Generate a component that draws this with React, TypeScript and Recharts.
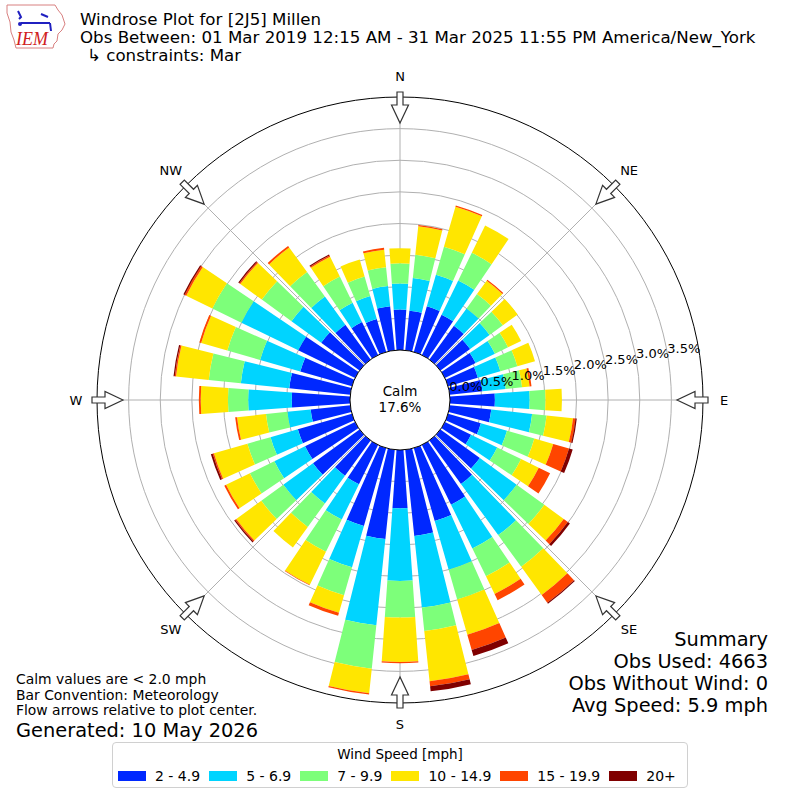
import React from 'react'
import {
  RadialBarChart,
  RadialBar,
  PolarAngleAxis,
  PolarRadiusAxis,
  PolarGrid,
  Legend,
} from 'recharts'

// wind direction (deg, where the wind comes from)
const directions = [
  0, 10, 20, 30, 40, 50, 60, 70, 80, 90, 100, 110, 120, 130, 140, 150, 160, 170,
  180, 190, 200, 210, 220, 230, 240, 250, 260, 270, 280, 290, 300, 310, 320, 330, 340, 350,
]

const speedBins = ['2 - 4.9', '5 - 6.9', '7 - 9.9', '10 - 14.9', '15 - 19.9', '20+']
const binColors = ['#0028ff', '#00d4ff', '#7dff7a', '#ffe600', '#ff4500', '#800000']

// frequency (%) per direction for each speed bin
const bin2to5 = [
  0.64, 0.63, 0.75, 0.71, 0.66, 0.58, 0.54, 0.49, 0.52, 0.71, 0.66, 0.54, 0.46, 0.77, 0.85, 1.05, 1.2, 1.37,
  0.92, 1.42, 1.28, 0.69, 0.69, 0.91, 0.88, 0.89, 0.63, 0.92, 0.97, 0.85, 1.0, 0.75, 0.68, 0.58, 0.54, 0.7,
]
const bin5to7 = [
  0.41, 0.52, 0.52, 0.6, 0.34, 0.38, 0.34, 0.37, 0.37, 0.55, 0.65, 0.43, 0.46, 0.72, 1.0, 0.77, 0.8, 1.14,
  1.15, 1.37, 0.68, 0.62, 0.54, 0.58, 0.54, 0.45, 0.37, 0.69, 0.77, 0.66, 1.0, 0.58, 0.55, 0.34, 0.38, 0.32,
]
const bin7to10 = [
  0.32, 0.37, 0.46, 0.49, 0.28, 0.26, 0.23, 0.28, 0.26, 0.25, 0.23, 0.45, 0.42, 0.54, 0.62, 0.49, 0.49, 0.37,
  0.58, 0.69, 0.46, 0.57, 0.46, 0.43, 0.43, 0.38, 0.34, 0.32, 0.51, 0.54, 0.51, 0.58, 0.48, 0.46, 0.32, 0.3,
]
const bin10to15 = [
  0.24, 0.45, 0.66, 0.48, 0.26, 0.29, 0.23, 0.29, 0.12, 0.26, 0.42, 0.31, 0.31, 0.38, 0.55, 0.31, 0.58, 0.8,
  0.7, 0.39, 0.29, 0.58, 0.4, 0.49, 0.42, 0.55, 0.46, 0.43, 0.52, 0.43, 0.46, 0.42, 0.48, 0.35, 0.28, 0.28,
]
const bin15to20 = [
  0, 0.02, 0.02, 0, 0.02, 0, 0, 0, 0.03, 0, 0.04, 0.26, 0.2, 0.08, 0.15, 0.11, 0.25, 0.08,
  0.02, 0.02, 0.05, 0.01, 0, 0.02, 0.03, 0.02, 0.03, 0.03, 0.02, 0.03, 0.03, 0.02, 0.03, 0.02, 0, 0.03,
]
const bin20plus = [
  0, 0, 0, 0, 0, 0, 0, 0, 0, 0, 0.02, 0.06, 0, 0.04, 0.02, 0, 0.1, 0.08,
  0, 0, 0, 0, 0, 0.02, 0, 0.03, 0, 0, 0.02, 0, 0.02, 0.02, 0, 0.02, 0, 0,
]

const compassTicks = [0, 45, 90, 135, 180, 225, 270, 315]
const compassLabels = ['N', 'NE', 'E', 'SE', 'S', 'SW', 'W', 'NW']
const radiusTicks = [0, 0.5, 1, 1.5, 2, 2.5, 3, 3.5]

const seriesKeys = ['b1', 'b2', 'b3', 'b4', 'b5', 'b6']
const binValues = [bin2to5, bin5to7, bin7to10, bin10to15, bin15to20, bin20plus]

const data = directions.map((dir, i) => {
  const row: Record<string, number> = { dir }
  seriesKeys.forEach((k, j) => {
    row[k] = binValues[j][i]
  })
  return row
})

const CX = 400
const CY = 400
const INNER = 50
const OUTER = 303
const R_MAX = 3.9
const FONT = '"DejaVu Sans", Verdana, sans-serif'

// compass bearing -> screen angle used by recharts (ccw from east)
const toScreen = (deg: number) => 90 - deg

// N / NE / ... labels plus the hollow flow arrows on the rim
const Compass = () => (
  <g>
    {compassTicks.map((deg, i) => {
      const a = (toScreen(deg) * Math.PI) / 180
      const ux = Math.cos(a)
      const uy = -Math.sin(a)
      const nx = -uy
      const ny = ux
      const p = (r: number, w: number) => `${CX + ux * r + nx * w},${CY + uy * r + ny * w}`
      const arrow = [p(277, 0), p(295, 8.5), p(295, 3), p(308, 3), p(308, -3), p(295, -3), p(295, -8.5)].join(' ')
      return (
        <g key={deg}>
          <polygon points={arrow} fill="#fff" stroke="#333" strokeWidth={1.2} />
          <text
            x={CX + ux * 324}
            y={CY + uy * 324}
            textAnchor="middle"
            dominantBaseline="central"
            fontSize={13}
            fill="#000"
            fontFamily={FONT}
          >
            {compassLabels[i]}
          </text>
        </g>
      )
    })}
  </g>
)

const RadiusTick = (props: any) => {
  const { x, y, payload } = props
  return (
    <text x={x} y={y} textAnchor="start" fontSize={13} fill="#000" fontFamily={FONT}>
      {`${Number(payload.value).toFixed(1)}%`}
    </text>
  )
}

const LegendBox = () => (
  <div
    style={{
      width: 576,
      height: 46,
      border: '1px solid #d0d0d0',
      borderRadius: 4,
      background: '#fff',
      fontFamily: FONT,
      color: '#000',
      boxSizing: 'border-box',
    }}
  >
    <div style={{ textAlign: 'center', fontSize: 13.5, lineHeight: '16px', marginTop: 3 }}>Wind Speed [mph]</div>
    <div style={{ display: 'flex', alignItems: 'center', marginTop: 6, marginLeft: 5 }}>
      {speedBins.map((b, i) => (
        <div key={b} style={{ display: 'flex', alignItems: 'center', marginRight: 9 }}>
          <div style={{ width: 28, height: 10, background: binColors[i], marginRight: 9 }} />
          <span style={{ fontSize: 14, lineHeight: '16px' }}>{b}</span>
        </div>
      ))}
    </div>
  </div>
)

const IemLogo = () => (
  <g>
    <path
      d="M7,5 L55,5 L58,10 L62,15 L65,24 L62,30 L58,34 L57,41 L54,44 L53,48 L16,48 L14,40 L11,32 L10,22 L7,13 Z"
      fill="none"
      stroke="#d88080"
      strokeWidth={1}
    />
    <path d="M18,11 L21,17 L19,19 M21,23 L50,23 M41,14 L48,17 M50,23 L51,31" stroke="#2020c0" strokeWidth={2} fill="none" />
    <circle cx={20} cy={24} r={2} fill="#2020c0" />
    <text x={16} y={45} fontSize={18} fontStyle="italic" fontFamily="'Liberation Serif', serif" fill="#d02020">
      IEM
    </text>
  </g>
)

export default function App() {
  return (
    <div
      style={{
        position: 'absolute',
        left: 0,
        top: 0,
        width: 800,
        height: 800,
        background: '#fff',
        fontFamily: FONT,
      }}
    >
      <RadialBarChart
        width={800}
        height={800}
        data={data}
        layout="centric"
        cx={CX}
        cy={CY}
        innerRadius={INNER}
        outerRadius={OUTER}
        startAngle={85}
        endAngle={-275}
        barCategoryGap="10%"
        margin={{ top: 0, right: 0, bottom: 0, left: 0 }}
      >
        <PolarAngleAxis dataKey="dir" type="category" tick={false} axisLine={false} tickLine={false} />
        <PolarRadiusAxis
          type="number"
          domain={[0, R_MAX]}
          allowDataOverflow
          ticks={radiusTicks}
          angle={10}
          axisLine={false}
          tickLine={false}
          tick={<RadiusTick />}
        />
        {seriesKeys.map((k, i) => (
          <RadialBar key={k} dataKey={k} name={speedBins[i]} stackId="wind" fill={binColors[i]} isAnimationActive={false} />
        ))}
        <PolarGrid gridType="circle" polarAngles={compassTicks.map(toScreen)} stroke="#b0b0b0" strokeWidth={1} />
        <PolarGrid gridType="circle" radialLines={false} polarRadius={[OUTER]} stroke="#000" strokeWidth={1} />
        <Legend content={() => <LegendBox />} wrapperStyle={{ position: 'absolute', left: 112, top: 742, width: 576 }} />
      </RadialBarChart>

      <svg width={800} height={800} style={{ position: 'absolute', left: 0, top: 0, pointerEvents: 'none' }}>
        <IemLogo />
        <Compass />
        <g fontFamily={FONT} fontSize={16.67} fill="#000">
          <text x={80} y={25}>Windrose Plot for [2J5] Millen</text>
          <text x={80} y={43}>Obs Between: 01 Mar 2019 12:15 AM - 31 Mar 2025 11:55 PM America/New_York</text>
          <text x={87} y={61}>↳ constraints: Mar</text>
        </g>
        <circle cx={CX} cy={CY} r={INNER} fill="#fff" stroke="#000" strokeWidth={1} />
        <g fontFamily={FONT} fontSize={13.5} fill="#000" textAnchor="middle">
          <text x={CX} y={396}>Calm</text>
          <text x={CX} y={412}>17.6%</text>
        </g>
        <g fontFamily={FONT} fontSize={13.9} fill="#000">
          <text x={16} y={684}>Calm values are &lt; 2.0 mph</text>
          <text x={16} y={700}>Bar Convention: Meteorology</text>
          <text x={16} y={715}>Flow arrows relative to plot center.</text>
          <text x={16} y={737} fontSize={19.4}>Generated: 10 May 2026</text>
        </g>
        <g fontFamily={FONT} fontSize={19.4} fill="#000" textAnchor="end">
          <text x={768} y={646}>Summary</text>
          <text x={768} y={668}>Obs Used: 4663</text>
          <text x={768} y={690}>Obs Without Wind: 0</text>
          <text x={768} y={712}>Avg Speed: 5.9 mph</text>
        </g>
      </svg>
    </div>
  )
}
